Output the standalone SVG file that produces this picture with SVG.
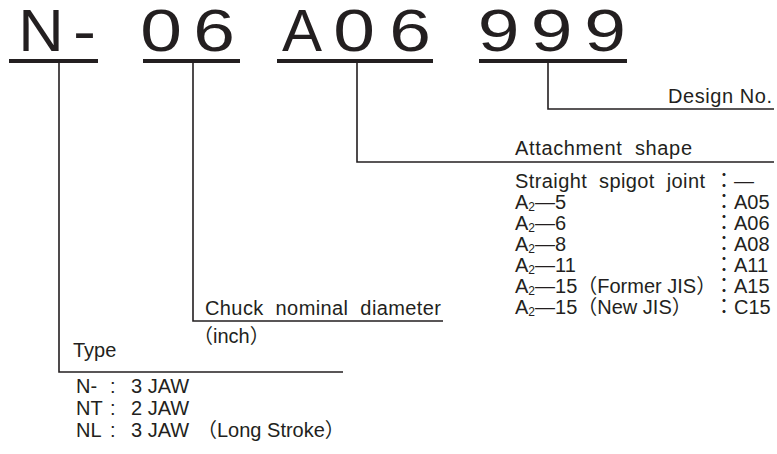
<svg xmlns="http://www.w3.org/2000/svg" width="777" height="454" viewBox="0 0 777 454">
<style>
.big{font-family:"Liberation Sans",Arial,sans-serif;font-size:60px;fill:#231f20;text-anchor:middle}
.t{font-family:"Liberation Sans","Noto Sans CJK JP",sans-serif;font-size:20px;fill:#231f20;white-space:pre}
.sub{font-size:12px}
.ul{fill:#231f20}
.c{fill:none;stroke:#231f20;stroke-width:1.6}
</style>
<rect width="777" height="454" fill="#fff"/>

<g id="code-type">
<text class="big" transform="translate(41,51) scale(1.05,1)">N</text>
<text class="big" transform="translate(84.5,51) scale(1.15,1)">-</text>
<rect class="ul" x="9" y="59" width="89" height="4"/>
</g>
<g id="code-diameter">
<text class="big" transform="translate(161,51) scale(1.25,1)">0</text>
<text class="big" transform="translate(214,51) scale(1.25,1)">6</text>
<rect class="ul" x="143" y="59" width="97" height="4"/>
</g>
<g id="code-attachment">
<text class="big" transform="translate(302,51) scale(1.0,1)">A</text>
<text class="big" transform="translate(354,51) scale(1.25,1)">0</text>
<text class="big" transform="translate(410,51) scale(1.25,1)">6</text>
<rect class="ul" x="277" y="59" width="156" height="4"/>
</g>
<g id="code-design">
<text class="big" transform="translate(498.5,51) scale(1.25,1)">9</text>
<text class="big" transform="translate(551.5,51) scale(1.25,1)">9</text>
<text class="big" transform="translate(605,51) scale(1.25,1)">9</text>
<rect class="ul" x="479" y="59" width="148" height="4"/>
</g>

<g id="connectors">
<path class="c" d="M548 63 V109 H774"/>
<path class="c" d="M357 63 V162 H774"/>
<path class="c" d="M193 63 V321 H443"/>
<path class="c" d="M59 63 V372 H343"/>
</g>

<g id="label-design">
<text class="t" x="668" y="103" textLength="104" lengthAdjust="spacing">Design No.</text>
</g>

<g id="label-attachment">
<text class="t" x="515" y="155" textLength="177" lengthAdjust="spacing">Attachment  shape</text>
<text class="t" x="515" y="188" textLength="190" lengthAdjust="spacing">Straight  spigot  joint</text>
<text class="t" x="714" y="188">：—</text>
<text class="t" x="515" y="209">A<tspan class="sub" dy="2">2</tspan><tspan dy="-2">—5</tspan></text>
<text class="t" x="714" y="209">：A05</text>
<text class="t" x="515" y="230">A<tspan class="sub" dy="2">2</tspan><tspan dy="-2">—6</tspan></text>
<text class="t" x="714" y="230">：A06</text>
<text class="t" x="515" y="251">A<tspan class="sub" dy="2">2</tspan><tspan dy="-2">—8</tspan></text>
<text class="t" x="714" y="251">：A08</text>
<text class="t" x="515" y="272">A<tspan class="sub" dy="2">2</tspan><tspan dy="-2">—11</tspan></text>
<text class="t" x="714" y="272">：A11</text>
<text class="t" x="515" y="293">A<tspan class="sub" dy="2">2</tspan><tspan dy="-2">—15（Former JIS）</tspan></text>
<text class="t" x="714" y="293">：A15</text>
<text class="t" x="515" y="314">A<tspan class="sub" dy="2">2</tspan><tspan dy="-2">—15（New JIS）</tspan></text>
<text class="t" x="714" y="314">：C15</text>
</g>

<g id="label-diameter">
<text class="t" x="205" y="315" textLength="236" lengthAdjust="spacing">Chuck  nominal  diameter</text>
<text class="t" x="193" y="343">（inch）</text>
</g>

<g id="label-type">
<text class="t" x="73" y="357">Type</text>
<text class="t" x="76" y="393">N-</text><text class="t" x="110" y="393">:</text><text class="t" x="131" y="393">3 JAW</text>
<text class="t" x="76" y="415">NT</text><text class="t" x="110" y="415">:</text><text class="t" x="131" y="415">2 JAW</text>
<text class="t" x="76" y="437">NL</text><text class="t" x="110" y="437">:</text><text class="t" x="131" y="437">3 JAW</text><text class="t" x="197" y="437">（Long Stroke）</text>
</g>
</svg>
